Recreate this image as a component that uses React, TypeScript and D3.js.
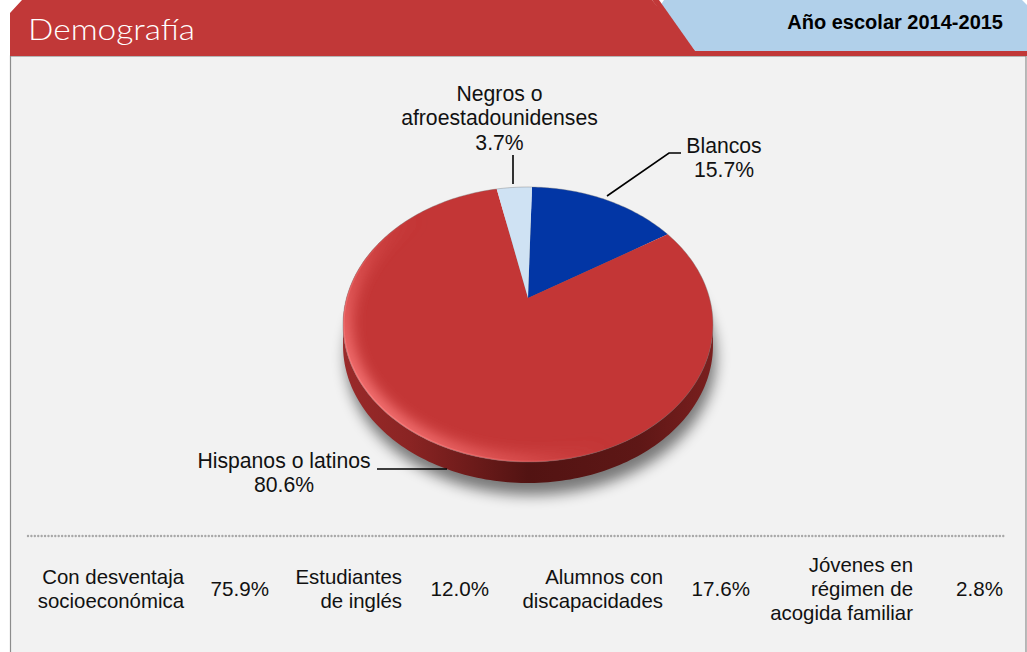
import { useEffect, useRef } from 'react';
import * as d3 from 'd3';

const sliceNames = ['Blancos', 'Hispanos o latinos', 'Negros o afroestadounidenses'];
const sliceValues = [15.7, 80.6, 3.7];
const sliceColors = ['#0236a5', '#c33636', '#cfe2f3'];

const statLabels = [
  ['Con desventaja', 'socioeconómica'],
  ['Estudiantes', 'de inglés'],
  ['Alumnos con', 'discapacidades'],
  ['Jóvenes en', 'régimen de', 'acogida familiar'],
];
const statValues = ['75.9%', '12.0%', '17.6%', '2.8%'];
const statLabelRight = [184, 402, 663, 913];
const statValueRight = [269, 489, 750, 1003];

const W = 1027;
const H = 652;
const FONT = '"Liberation Sans", Arial, sans-serif';

// perspective of the disc: apex sits above the middle of the ellipse
const apex = { x: 528, y: 298 };
const persp = 0.1927;
const scaleU = 181.5;
const scaleV = 132.4;
const depth = 21;
const rotation = (1.5 * Math.PI) / 180;

function project(angle: number): [number, number] {
  const u = Math.sin(angle);
  const v = -Math.cos(angle);
  const w = 1 - persp * v;
  return [apex.x + (scaleU * u) / w, apex.y + (scaleV * v) / w];
}

function rimPoints(a0: number, a1: number) {
  const n = Math.max(2, Math.ceil(Math.abs(a1 - a0) / 0.02));
  return d3.range(n + 1).map(i => project(a0 + ((a1 - a0) * i) / n));
}

export default function App() {
  const svgRef = useRef<SVGSVGElement>(null);

  useEffect(() => {
    const svg = d3.select(svgRef.current);
    svg.selectAll('*').remove();
    svg.attr('viewBox', `0 0 ${W} ${H}`).attr('width', W).attr('height', H);

    const line = d3.line();
    const full = rimPoints(0, 2 * Math.PI);
    const outline = line(full) + 'Z';

    const pie = d3.pie<number>().sort(null)
      .startAngle(rotation).endAngle(rotation + 2 * Math.PI);
    const arcs = pie(sliceValues);
    const slicePath = (d: d3.PieArcDatum<number>) =>
      line([[apex.x, apex.y], ...rimPoints(d.startAngle, d.endAngle)]) + 'Z';

    const defs = svg.append('defs');
    const blur = (id: string, sd: number) =>
      defs.append('filter').attr('id', id)
        .attr('x', '-30%').attr('y', '-30%').attr('width', '160%').attr('height', '160%')
        .append('feGaussianBlur').attr('stdDeviation', sd);
    blur('shadow', 7);
    blur('soft', 7);
    defs.append('clipPath').attr('id', 'red-slice').append('path').attr('d', slicePath(arcs[1]));

    const side = defs.append('linearGradient').attr('id', 'side');
    [['0%', '#9a2a2a'], ['18%', '#8a2423'], ['50%', '#521312'], ['80%', '#5e1716'], ['100%', '#7a1f1e']]
      .forEach(([o, c]) => side.append('stop').attr('offset', o).attr('stop-color', c));

    // highlight runs along the lower left of the rim and fades out to the right
    const glow = defs.append('linearGradient').attr('id', 'glow')
      .attr('gradientUnits', 'userSpaceOnUse')
      .attr('x1', 390).attr('y1', 440).attr('x2', 560).attr('y2', 300);
    [['0%', '#ff8080', 0.95], ['40%', '#ee6464', 0.5], ['75%', '#d04545', 0]]
      .forEach(([o, c, a]) => glow.append('stop').attr('offset', o as string)
        .attr('stop-color', c as string).attr('stop-opacity', a as number));

    // header
    svg.append('rect').attr('width', W).attr('height', H).attr('fill', '#fff');
    svg.append('rect').attr('x', 10.5).attr('y', 56).attr('width', 1015.5).attr('height', H + 10)
      .attr('fill', '#f2f2f2').attr('stroke', '#8c8c8c').attr('stroke-width', 1.2);
    svg.append('path').attr('fill', '#c13838')
      .attr('d', 'M10,13 L22,0 L652,0 L695,51 L1027,51 L1027,56 L10,56 Z');
    svg.append('path').attr('fill', '#b1d0ea')
      .attr('d', 'M664,0 L1022,0 L1027,5 L1027,51 L695,51 L660,6 Z');
    svg.append('path').attr('fill', '#c13838').attr('d', 'M652,0 L659,0 L695,51 L690,51 Z');
    svg.append('text').text('Demografía').attr('x', 28).attr('y', 40)
      .attr('fill', '#fff').attr('font-family', 'Lato, sans-serif').attr('font-weight', 300)
      .attr('font-size', 30).attr('textLength', 167).attr('lengthAdjust', 'spacingAndGlyphs');
    svg.append('text').text('Año escolar 2014-2015').attr('x', 1003).attr('y', 29)
      .attr('text-anchor', 'end').attr('fill', '#000').attr('font-family', FONT)
      .attr('font-weight', 700).attr('font-size', 20);

    // soft shadow under the disc
    svg.append('path').attr('d', outline)
      .attr('transform', `translate(3,${depth + 12})`)
      .attr('fill', '#000').attr('opacity', 0.5).attr('filter', 'url(#shadow)');

    // side wall
    const lower = full.map(([x, y]) => [x, y + depth] as [number, number]);
    const leftIdx = d3.least(d3.range(full.length), i => full[i][0]) as number;
    const rightIdx = d3.greatest(d3.range(full.length), i => full[i][0]) as number;
    const frontTop = full.slice(rightIdx, leftIdx + 1);
    const frontBottom = lower.slice(rightIdx, leftIdx + 1).reverse();
    svg.append('path').attr('d', line([...frontTop, ...frontBottom]) + 'Z').attr('fill', 'url(#side)');

    // top face
    svg.append('g').selectAll('path').data(arcs).join('path')
      .attr('d', slicePath)
      .attr('fill', (_, i) => sliceColors[i])
      .attr('aria-label', (_, i) => sliceNames[i]);

    // rim shading, only on the red slice
    const rim = svg.append('g').attr('clip-path', 'url(#red-slice)');
    rim.append('path').attr('d', outline).attr('fill', 'none')
      .attr('stroke', 'url(#glow)').attr('stroke-width', 18).attr('filter', 'url(#soft)');
    rim.append('path').attr('d', outline).attr('fill', 'none')
      .attr('stroke', 'url(#glow)').attr('stroke-width', 3);
    svg.append('path').attr('d', outline).attr('fill', 'none')
      .attr('stroke', '#777').attr('stroke-width', 0.7).attr('opacity', 0.55);

    // leader lines
    const leaders: [number, number][][] = [
      [[513, 155], [513, 184]],
      [[607, 196], [669, 153], [681, 153]],
      [[377, 469], [447, 469]],
    ];
    svg.append('g').selectAll('path').data(leaders).join('path')
      .attr('d', d => line(d))
      .attr('fill', 'none').attr('stroke', '#000').attr('stroke-width', 1.6);

    const addText = (lines: string[], x: number, y: number, anchor: string, size: number) => {
      const t = svg.append('text').attr('font-family', FONT).attr('font-size', size)
        .attr('fill', '#111').attr('text-anchor', anchor);
      lines.forEach((s, i) => t.append('tspan').attr('x', x).attr('y', y + i * 24.3).text(s));
    };

    const fmt = (v: number) => `${v.toFixed(1)}%`;
    addText(['Negros o', 'afroestadounidenses', fmt(sliceValues[2])], 499.5, 101, 'middle', 21.2);
    addText(['Blancos', fmt(sliceValues[0])], 724, 153, 'middle', 21.2);
    addText(['Hispanos o latinos', fmt(sliceValues[1])], 284, 468, 'middle', 21.2);

    // dotted divider
    svg.append('line').attr('x1', 28).attr('x2', 1004).attr('y1', 536).attr('y2', 536)
      .attr('stroke', '#a8a8a8').attr('stroke-width', 2.4)
      .attr('stroke-linecap', 'round').attr('stroke-dasharray', '0.01 3.4');

    // bottom stats
    statLabels.forEach((lines, i) => {
      const top = 596 - ((lines.length - 1) * 24.3) / 2;
      addText(lines, statLabelRight[i], top, 'end', 20.4);
      addText([statValues[i]], statValueRight[i], 596, 'end', 20.6);
    });
  }, []);

  return <svg ref={svgRef} style={{ position: 'absolute', left: 0, top: 0, display: 'block' }} />;
}
